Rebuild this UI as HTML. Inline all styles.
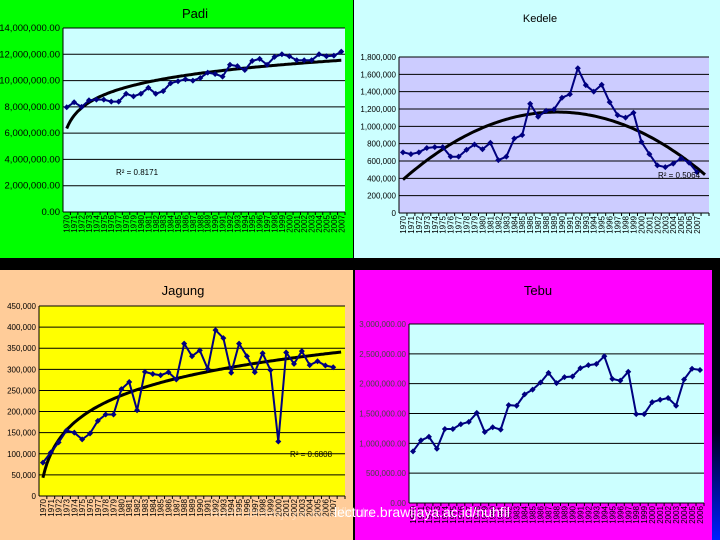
<!DOCTYPE html>
<html><head><meta charset="utf-8"><style>
html,body{margin:0;padding:0;background:#000;}
svg{display:block;font-family:"Liberation Sans",sans-serif;}
</style></head><body>
<svg id="s" width="720" height="540" viewBox="0 0 720 540">
<rect x="0" y="0" width="720" height="540" fill="#000"/>
<rect x="0" y="0" width="353" height="258" fill="#00ff00"/>
<rect x="354" y="0" width="366" height="258" fill="#ccffff"/>
<rect x="0" y="270" width="353" height="270" fill="#ffcc99"/>
<rect x="355" y="270" width="357" height="270" fill="#ff00ff"/>
<defs><linearGradient id="bg" x1="0" y1="0" x2="0" y2="1"><stop offset="0" stop-color="#000"/><stop offset="0.6" stop-color="#000020"/><stop offset="1" stop-color="#0020ff"/></linearGradient></defs>
<rect x="712" y="270" width="8" height="270" fill="url(#bg)"/>
<g id="charts"></g>
<text x="210" y="517" font-size="14" fill="#fff" opacity="0.35">nuhfil.brawijaya.ac.id/lectu</text>
<text x="334" y="517" font-size="14" fill="#fff">lecture.brawijaya.ac.id/nuhfil</text>
</svg>
<script>
const padiYears=[1970,1971,1972,1973,1974,1975,1976,1977,1978,1979,1980,1981,1982,1983,1984,1985,1986,1987,1988,1989,1990,1991,1992,1993,1994,1995,1996,1997,1998,1999,2000,2001,2002,2003,2004,2005,2006,2007];
const padiValues=[7.97,8.35,8.0,8.5,8.55,8.55,8.4,8.4,9.0,8.8,9.0,9.45,9.0,9.2,9.8,9.95,10.1,10.0,10.2,10.6,10.5,10.3,11.2,11.1,10.8,11.5,11.65,11.2,11.8,12.0,11.85,11.55,11.55,11.55,12.0,11.85,11.9,12.2];
const padiTicks=["0.00","2,000,000.00","4,000,000.00","6,000,000.00","8,000,000.00","10,000,000.00","12,000,000.00","14,000,000.00"];

const kedeleYears=[1970,1971,1972,1973,1974,1975,1976,1977,1978,1979,1980,1981,1982,1983,1984,1985,1986,1987,1988,1989,1990,1991,1992,1993,1994,1995,1996,1997,1998,1999,2000,2001,2002,2003,2004,2005,2006,2007,""];
const kedeleValues=[0.70,0.68,0.70,0.75,0.76,0.76,0.65,0.65,0.73,0.79,0.735,0.81,0.61,0.65,0.86,0.90,1.26,1.11,1.18,1.195,1.33,1.37,1.67,1.475,1.40,1.48,1.28,1.13,1.10,1.157,0.82,0.68,0.55,0.53,0.57,0.63,0.58,0.47];
const kedeleTicks=["0","200,000","400,000","600,000","800,000","1,000,000","1,200,000","1,400,000","1,600,000","1,800,000"];

const jagungYears=[1970,1971,1972,1973,1974,1975,1976,1977,1978,1979,1980,1981,1982,1983,1984,1985,1986,1987,1988,1989,1990,1991,1992,1993,1994,1995,1996,1997,1998,1999,2000,2001,2002,2003,2004,2005,2006,2007,""];
const jagungValues=[79,103,127,155,150,134,148,178,193,193,253,270,203,294,289,286,293,276,361,331,345,301,393,374,292,361,331,293,338,298,129,340,313,343,310,319,309,305];
const jagungTicks=["0","50,000","100,000","150,000","200,000","250,000","300,000","350,000","400,000","450,000"];

const tebuYears=[1970,1971,1972,1973,1974,1975,1976,1977,1978,1979,1980,1981,1982,1983,1984,1985,1986,1987,1988,1989,1990,1991,1992,1993,1994,1995,1996,1997,1998,1999,2000,2001,2002,2003,2004,2005,2006];
const tebuValues=[0.866,1.05,1.11,0.91,1.24,1.24,1.32,1.36,1.51,1.19,1.27,1.23,1.64,1.63,1.82,1.90,2.02,2.18,2.01,2.11,2.12,2.26,2.31,2.33,2.46,2.08,2.05,2.20,1.49,1.49,1.69,1.73,1.76,1.63,2.07,2.25,2.23];
const tebuTicks=["0.00","500,000.00","1,000,000.00","1,500,000.00","2,000,000.00","2,500,000.00","3,000,000.00"];

const NS="http://www.w3.org/2000/svg";
const root=document.getElementById('charts');
function mk(tag,attrs,parent){const e=document.createElementNS(NS,tag);for(const k in attrs)e.setAttribute(k,attrs[k]);(parent||root).appendChild(e);return e;}

function logFit(v){let n=v.length,sx=0,sy=0,sxx=0,sxy=0;for(let i=0;i<n;i++){const x=Math.log(i+1);sx+=x;sy+=v[i];sxx+=x*x;sxy+=x*v[i];}
 const b=(n*sxy-sx*sy)/(n*sxx-sx*sx),a=(sy-b*sx)/n;return x=>a+b*Math.log(x);}
function quadFit(v){let S=[0,0,0,0,0],T=[0,0,0];for(let i=0;i<v.length;i++){const x=i+1;for(let k=0;k<5;k++)S[k]+=Math.pow(x,k);for(let k=0;k<3;k++)T[k]+=Math.pow(x,k)*v[i];}
 const M=[[S[0],S[1],S[2],T[0]],[S[1],S[2],S[3],T[1]],[S[2],S[3],S[4],T[2]]];
 for(let i=0;i<3;i++){for(let j=i+1;j<3;j++){const f=M[j][i]/M[i][i];for(let k=i;k<4;k++)M[j][k]-=f*M[i][k];}}
 const c=[0,0,0];for(let i=2;i>=0;i--){let s=M[i][3];for(let k=i+1;k<3;k++)s-=M[i][k]*c[k];c[i]=s/M[i][i];}
 return x=>c[0]+c[1]*x+c[2]*x*x;}

function chart(o){
 const g=mk('g',{});
 
 
 const pl=mk('rect',{x:o.x0,y:o.y0,width:o.x1-o.x0,height:o.y1-o.y0,fill:o.plotBg},g);
 
 
 const n=o.cats.length,cw=(o.x1-o.x0)/n;
 const X=i=>o.x0+cw*(i+0.5);
 const Y=v=>o.y1-(v/o.max)*(o.y1-o.y0);
 const nt=o.ticks.length;
 for(let t=0;t<nt;t++){
  const yv=o.y1-(o.y1-o.y0)*t/(nt-1);
  const gl=mk('line',{x1:o.x0,x2:o.x1,y1:yv,y2:yv,stroke:'#000','stroke-width':1},g);
  
  
  const tl=mk('text',{x:o.x0-3,y:yv+3,'font-size':o.tfs,'text-anchor':'end',fill:o.tcol||'#000'},g);
  tl.textContent=o.ticks[t];
  
  
 }
 const ax=mk('line',{x1:o.x0,x2:o.x0,y1:o.y0,y2:o.y1,stroke:'#000','stroke-width':1},g);
 
 
 for(let i=0;i<n;i++){
  const tk=mk('line',{x1:o.x0+cw*(i+1),x2:o.x0+cw*(i+1),y1:o.y1,y2:o.y1+3,stroke:'#000'},g);
  
  
  if(o.cats[i]==="")continue;
  const xl=mk('text',{x:0,y:0,'font-size':8,'text-anchor':'end',fill:'#000',transform:`translate(${X(i)+3},${o.y1+3}) rotate(-90)`},g);
  xl.textContent=o.cats[i];
  
  
 }
 if(o.fit){
  const f=o.fit;let d='';
  for(let k=0;k<=o.fitN*4-4;k++){const xi=1+k/4;d+=(k?'L':'M')+(o.x0+cw*(xi-0.5)).toFixed(1)+','+Y(f(xi)).toFixed(1);}
  const tr=mk('path',{d:d,fill:'none',stroke:'#000','stroke-width':3},g);
  
  
 }
 let d='';o.vals.forEach((v,i)=>{d+=(i?'L':'M')+X(i).toFixed(1)+','+Y(v).toFixed(1);});
 const ln=mk('path',{d:d,fill:'none',stroke:'#000080','stroke-width':2},g);
 
 
 o.vals.forEach((v,i)=>{
  const cx=X(i),cy=Y(v);
  const m=mk('path',{d:`M${cx},${cy-3}L${cx+3},${cy}L${cx},${cy+3}L${cx-3},${cy}Z`,fill:'#000080'},g);
  
  
 });
 const ti=mk('text',{x:o.tx,y:o.ty,'font-size':o.tsize,'text-anchor':'middle',fill:'#000'},g);
 ti.textContent=o.title;
 
 
 if(o.r2){
  const r=mk('text',{x:o.r2x,y:o.r2y,'font-size':8,fill:'#000'},g);
  r.textContent=o.r2;
  
  
 }
}
chart({name:'padi',title:'Padi',tx:195,ty:18,tsize:13,x0:63,x1:345,y0:28,y1:212,max:14,plotBg:'#ccffff',cats:padiYears,vals:padiValues,ticks:padiTicks,tfs:9.5,fit:logFit(padiValues),fitN:38,r2:'R² = 0.8171',r2x:116,r2y:175});
chart({name:'kedele',title:'Kedele',tx:540,ty:22,tsize:11,x0:399,x1:709,y0:57,y1:213,max:1.8,plotBg:'#ccccff',cats:kedeleYears,vals:kedeleValues,ticks:kedeleTicks,tfs:8,fit:quadFit(kedeleValues),fitN:39,r2:'R² = 0.5064',r2x:658,r2y:178});
chart({name:'jagung',title:'Jagung',tx:183,ty:295,tsize:13,x0:39,x1:345,y0:306,y1:496,max:450,plotBg:'#ffff00',cats:jagungYears,vals:jagungValues,ticks:jagungTicks,tfs:8,fit:logFit(jagungValues),fitN:39,r2:'R² = 0.6808',r2x:290,r2y:457});
chart({name:'tebu',title:'Tebu',tx:538,ty:295,tsize:13,x0:409,x1:704,y0:324,y1:503,max:3,plotBg:'#ccffff',cats:tebuYears,vals:tebuValues,ticks:tebuTicks,tfs:8,tcol:'#444',fit:null});
</script>
</body></html>
